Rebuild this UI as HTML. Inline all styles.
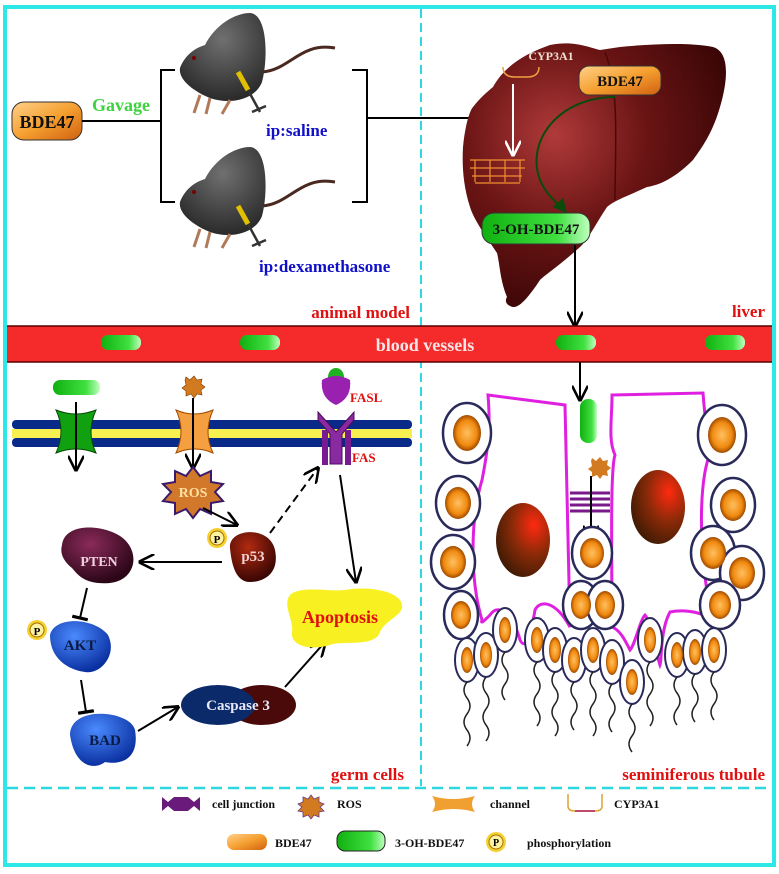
<!DOCTYPE html>
<html><head><meta charset="utf-8"><style>
html,body{margin:0;padding:0;background:#fff;width:779px;height:874px;overflow:hidden}
svg{display:block}
text{font-family:"Liberation Serif",serif;font-weight:bold}
</style></head><body>
<svg width="779" height="874" viewBox="0 0 779 874" xmlns="http://www.w3.org/2000/svg">
<defs>
<linearGradient id="og" x1="0" y1="0" x2="1" y2="1"><stop offset="0" stop-color="#ffd08a"/><stop offset=".5" stop-color="#f5a030"/><stop offset="1" stop-color="#d06010"/></linearGradient>
<linearGradient id="gg" x1="0" y1="0" x2="1" y2="0"><stop offset="0" stop-color="#10b010"/><stop offset=".7" stop-color="#40e040"/><stop offset="1" stop-color="#c0ffc0"/></linearGradient>
<radialGradient id="liv" cx=".35" cy=".35" r=".7"><stop offset="0" stop-color="#b03a3a"/><stop offset=".5" stop-color="#6a1414"/><stop offset="1" stop-color="#3a0606"/></radialGradient>
<radialGradient id="nuc" cx=".7" cy=".3" r=".8"><stop offset="0" stop-color="#ff2a10"/><stop offset=".5" stop-color="#8a2a08"/><stop offset="1" stop-color="#3a1a04"/></radialGradient>
<radialGradient id="on" cx=".5" cy=".5" r=".5"><stop offset="0" stop-color="#ffc060"/><stop offset=".7" stop-color="#f08a10"/><stop offset="1" stop-color="#a04a00"/></radialGradient>
<radialGradient id="blue" cx=".4" cy=".3" r=".7"><stop offset="0" stop-color="#4a8aff"/><stop offset="1" stop-color="#0a30a0"/></radialGradient>
<radialGradient id="plum" cx=".4" cy=".3" r=".7"><stop offset="0" stop-color="#8a2a5a"/><stop offset="1" stop-color="#2a0616"/></radialGradient>
<radialGradient id="p53" cx=".4" cy=".3" r=".7"><stop offset="0" stop-color="#b02a10"/><stop offset="1" stop-color="#3a0604"/></radialGradient>
<radialGradient id="rat" cx=".5" cy=".3" r=".7"><stop offset="0" stop-color="#707070"/><stop offset="1" stop-color="#2a2a2a"/></radialGradient>
<marker id="ah" viewBox="0 0 10 10" refX="9" refY="5" markerWidth="8" markerHeight="8" orient="auto"><path d="M0,0 L10,5 L0,10" fill="none" stroke="#000" stroke-width="1.6"/></marker>
<marker id="ahw" viewBox="0 0 10 10" refX="9" refY="5" markerWidth="8" markerHeight="8" orient="auto"><path d="M0,0 L10,5 L0,10" fill="none" stroke="#fff" stroke-width="1.6"/></marker>
<marker id="ahg" viewBox="0 0 10 10" refX="9" refY="5" markerWidth="7" markerHeight="7" orient="auto"><path d="M0,0 L10,5 L0,10z" fill="#0a4a0a"/></marker>
<marker id="tb" viewBox="0 0 10 10" refX="5" refY="5" markerWidth="8" markerHeight="8" orient="auto"><path d="M5,0 L5,10" stroke="#000" stroke-width="2"/></marker>
<g id="rat1">
 <path d="M335,48 C300,42 290,70 262,72" fill="none" stroke="#4a2a20" stroke-width="3"/>
 <path d="M180,68 C185,55 195,48 205,45 C215,25 235,13 250,13 C268,14 268,60 262,82 C255,100 230,105 210,98 C195,92 178,80 180,68z" fill="url(#rat)"/>
 <circle cx="194" cy="58" r="2" fill="#700"/>
 <path d="M200,95 l-6,18 M210,98 l-4,16 M230,100 l-8,14" stroke="#b07a5a" stroke-width="3"/>
 <path d="M238,72 l10,18" stroke="#e0c000" stroke-width="5"/>
 <path d="M248,90 l12,22 M252,112 l14,-6" stroke="#333" stroke-width="2.5"/>
</g>
</defs>

<rect x="5" y="7" width="769" height="858" fill="none" stroke="#2ee8e8" stroke-width="4"/>
<line x1="421" y1="9" x2="421" y2="786" stroke="#2ed8e0" stroke-width="2" stroke-dasharray="9,5"/>
<line x1="7" y1="788" x2="772" y2="788" stroke="#2ed8e0" stroke-width="2.5" stroke-dasharray="11,6"/>

<rect x="12" y="102" width="70" height="38" rx="12" fill="url(#og)" stroke="#333" stroke-width="1"/>
<text x="47" y="128" font-size="18" text-anchor="middle" fill="#111">BDE47</text>
<text x="92" y="111" font-size="18" fill="#3ed23e">Gavage</text>
<line x1="82" y1="121" x2="161" y2="121" stroke="#000" stroke-width="2"/>
<path d="M175,70 H161 V202 H175" fill="none" stroke="#000" stroke-width="2"/>
<path d="M352,70 H367 V202 H352" fill="none" stroke="#000" stroke-width="2"/>
<line x1="367" y1="118" x2="508" y2="118" stroke="#000" stroke-width="2" marker-end="url(#ah)"/>
<use href="#rat1"/>
<use href="#rat1" transform="translate(0,134)"/>
<text x="266" y="136" font-size="17" fill="#1010c8" font-weight="normal">ip:saline</text>
<text x="259" y="272" font-size="17" fill="#1010c8" font-weight="normal">ip:dexamethasone</text>
<text x="410" y="318" font-size="17" fill="#e01010" text-anchor="end">animal model</text>

<path d="M493,87 C505,65 527,53 550,45 C575,40 590,48 600,50 L620,47 C650,44 690,42 713,47 C730,52 728,80 720,107 C712,135 700,150 693,160 C675,178 660,185 647,187 C630,195 615,200 607,207 C595,225 588,240 580,247 C560,265 545,275 540,280 C530,295 520,308 513,307 C505,305 505,300 507,297 C500,280 500,265 497,253 C485,235 474,220 470,207 C463,185 462,165 463,147 C465,125 470,110 473,107 C480,98 487,92 493,87z" fill="url(#liv)"/>
<path d="M605,52 C620,90 615,150 615,200" stroke="#4a0808" stroke-width="1.5" fill="none"/>
<text x="551" y="60" font-size="12" fill="#f0e0d0" font-weight="normal" text-anchor="middle">CYP3A1</text>
<path d="M503,67 q0,10 12,10 h12 q12,0 12,-10" fill="none" stroke="#f0a040" stroke-width="1.5"/>
<path d="M470,160 h55 M470,168 h55 M472,176 h50 M475,183 h45 M475,160 v22 M490,160 v22 M505,160 v22 M520,160 v22" stroke="#f09030" stroke-width="1.2" fill="none"/>
<line x1="513" y1="84" x2="513" y2="155" stroke="#fff" stroke-width="2" marker-end="url(#ahw)"/>
<rect x="579" y="66" width="82" height="29" rx="10" fill="url(#og)" stroke="#333"/>
<text x="620" y="86" font-size="15" text-anchor="middle" fill="#111">BDE47</text>
<path d="M615,97 C560,97 525,140 540,180 C548,198 560,205 566,212" fill="none" stroke="#0a4a0a" stroke-width="2" marker-end="url(#ahg)"/>
<rect x="482" y="213" width="108" height="31" rx="12" fill="url(#gg)" stroke="#333"/>
<text x="536" y="234" font-size="15" text-anchor="middle" fill="#111">3-OH-BDE47</text>
<line x1="575" y1="245" x2="575" y2="326" stroke="#000" stroke-width="2" marker-end="url(#ah)"/>
<text x="765" y="317" font-size="17" fill="#e01010" text-anchor="end">liver</text>

<rect x="7" y="326" width="765" height="36" fill="#f52a2a"/>
<line x1="7" y1="326" x2="772" y2="326" stroke="#5a0000" stroke-width="1.5"/>
<line x1="7" y1="362" x2="772" y2="362" stroke="#5a0000" stroke-width="1.5"/>
<rect x="101" y="335" width="40" height="15" rx="7" fill="url(#gg)"/>
<rect x="240" y="335" width="40" height="15" rx="7" fill="url(#gg)"/>
<rect x="556" y="335" width="40" height="15" rx="7" fill="url(#gg)"/>
<rect x="705" y="335" width="40" height="15" rx="7" fill="url(#gg)"/>
<text x="425" y="351" font-size="18" fill="#f6e6e6" font-weight="normal" text-anchor="middle">blood vessels</text>
<line x1="580" y1="362" x2="580" y2="400" stroke="#000" stroke-width="2" marker-end="url(#ah)"/>

<rect x="12" y="420" width="400" height="9" rx="4" fill="#0a2a8a"/>
<rect x="12" y="429" width="400" height="9" fill="#f8f050"/>
<rect x="12" y="438" width="400" height="9" rx="4" fill="#0a2a8a"/>
<rect x="53" y="380" width="47" height="15" rx="7" fill="url(#gg)"/>
<path d="M56,410 q20,8 40,0 q-10,22 0,43 q-20,-8 -40,0 q10,-22 0,-43z" fill="#10a010" stroke="#064a06"/>
<line x1="76" y1="402" x2="76" y2="470" stroke="#000" stroke-width="2" marker-end="url(#ah)"/>
<path d="M186,377 l4,3 4,-4 3,4 5,-1 -1,5 4,3 -4,3 1,5 -5,-1 -3,4 -3,-4 -5,2 0,-5 -4,-3 4,-3 -1,-5z" fill="#d27a20" stroke="#7a3a00" stroke-width=".6"/>
<path d="M176,410 q18,8 37,0 q-10,22 0,43 q-18,-8 -37,0 q10,-22 0,-43z" fill="#f5a040" stroke="#a04a00"/>
<line x1="193" y1="398" x2="193" y2="468" stroke="#000" stroke-width="2" marker-end="url(#ah)"/>
<path d="M193,467 l7,9 11,-5 0,11 12,2 -8,8 8,9 -12,2 0,11 -11,-5 -7,9 -7,-9 -11,5 0,-11 -12,-2 8,-9 -8,-8 12,-2 0,-11 11,5z" fill="#d2782a" stroke="#3a1a6a" stroke-width="2"/>
<text x="193" y="497" font-size="14" font-weight="normal" fill="#ffe0a0" text-anchor="middle">ROS</text>
<ellipse cx="336" cy="377" rx="8" ry="9" fill="#20b020"/>
<path d="M322,380 q14,-8 28,0 q2,18 -14,25 q-16,-7 -14,-25z" fill="#9a20b0"/>
<path d="M318,412 l18,20 18,-20 v8 l-12,14 v30 h-12 v-30 l-12,-14z" fill="#8a2aa0" stroke="#4a0a5a"/>
<rect x="322" y="430" width="6" height="35" fill="#7a1a90"/><rect x="345" y="430" width="6" height="35" fill="#7a1a90"/>
<text x="350" y="402" font-size="13" fill="#e01010">FASL</text>
<text x="352" y="462" font-size="13" fill="#e01010">FAS</text>
<line x1="203" y1="508" x2="237" y2="525" stroke="#000" stroke-width="2" marker-end="url(#ah)"/>
<line x1="270" y1="533" x2="318" y2="468" stroke="#000" stroke-width="2" stroke-dasharray="8,5" marker-end="url(#ah)"/>
<line x1="340" y1="475" x2="356" y2="582" stroke="#000" stroke-width="2" marker-end="url(#ah)"/>
<path d="M230,548 C228,528 270,525 275,550 C280,575 262,582 250,582 C238,582 232,570 230,548z" fill="url(#p53)"/>
<text x="253" y="561" font-size="15" font-weight="normal" fill="#f0d0d0" text-anchor="middle">p53</text>
<circle cx="217" cy="538" r="10" fill="#f5d030"/><circle cx="217" cy="538" r="7" fill="#fff2a0" stroke="#a07000"/>
<text x="217" y="543" font-size="11" text-anchor="middle" fill="#000" font-family="Liberation Sans">P</text>
<line x1="222" y1="562" x2="140" y2="562" stroke="#000" stroke-width="2" marker-end="url(#ah)"/>
<path d="M62,545 C65,520 110,525 125,540 C140,555 135,580 110,583 C85,585 78,575 72,568 C62,560 60,552 62,545z" fill="url(#plum)"/>
<text x="99" y="566" font-size="14" font-weight="normal" fill="#f0d0e0" text-anchor="middle">PTEN</text>
<line x1="87" y1="588" x2="80" y2="618" stroke="#000" stroke-width="2" marker-end="url(#tb)"/>
<path d="M50,635 C55,615 95,618 108,635 C118,655 100,675 85,672 C70,670 50,660 50,635z" fill="url(#blue)"/>
<text x="80" y="650" font-size="15" fill="#0a1a40" text-anchor="middle">AKT</text>
<circle cx="37" cy="630" r="10" fill="#f5d030"/><circle cx="37" cy="630" r="7" fill="#fff2a0" stroke="#a07000"/>
<text x="37" y="635" font-size="11" text-anchor="middle" fill="#000" font-family="Liberation Sans">P</text>
<line x1="81" y1="680" x2="86" y2="712" stroke="#000" stroke-width="2" marker-end="url(#tb)"/>
<path d="M70,735 C70,705 130,710 135,730 C140,760 120,765 105,762 C95,770 75,768 70,735z" fill="url(#blue)"/>
<text x="105" y="745" font-size="15" fill="#0a1a40" text-anchor="middle">BAD</text>
<line x1="138" y1="731" x2="178" y2="707" stroke="#000" stroke-width="2" marker-end="url(#ah)"/>
<ellipse cx="262" cy="705" rx="34" ry="20" fill="#4a0a0a"/>
<ellipse cx="218" cy="705" rx="37" ry="20" fill="#0a2a6a"/>
<text x="238" y="710" font-size="15" font-weight="normal" fill="#e8e8f8" text-anchor="middle" font-family="Liberation Sans">Caspase 3</text>
<line x1="285" y1="687" x2="325" y2="642" stroke="#000" stroke-width="2" marker-end="url(#ah)"/>
<path d="M290,595 C300,585 330,592 345,590 C365,586 400,590 402,605 C404,615 385,620 380,632 C375,648 340,640 330,645 C315,650 290,648 292,632 C294,620 282,605 290,595z" fill="#f8f020"/>
<text x="340" y="623" font-size="18" fill="#e01010" text-anchor="middle">Apoptosis</text>
<text x="404" y="780" font-size="17" fill="#e01010" text-anchor="end">germ cells</text>

<g fill="none" stroke="#e020e0" stroke-width="3">
<path d="M488,395 L565,405 L570,627 C555,600 540,600 535,610 C530,640 525,650 520,640 C515,620 500,600 490,615 C485,620 480,625 482,620 C470,580 470,520 482,480 C490,440 490,420 488,395z"/>
<path d="M612,395 L703,393 C705,420 708,440 712,450 C700,470 696,540 712,620 C700,610 680,610 670,612 C660,630 662,660 660,665 C655,650 650,620 645,615 C640,620 635,645 630,650 C625,640 620,630 612,627 C612,560 610,470 615,455 C608,440 612,420 612,395z"/>
</g>
<ellipse cx="523" cy="540" rx="27" ry="37" fill="url(#nuc)"/>
<ellipse cx="658" cy="507" rx="27" ry="37" fill="url(#nuc)"/>
<rect x="580" y="399" width="17" height="44" rx="8" fill="url(#gg)"/>
<path d="M592,458 l4,3 4,-4 3,4 5,-1 -1,5 4,3 -4,3 1,5 -5,-1 -3,4 -3,-4 -5,2 0,-5 -4,-3 4,-3 -1,-5z" fill="#d27a20"/>
<g stroke="#7a1a8a" stroke-width="3"><path d="M570,493 h40 M570,499 h40 M570,505 h40 M570,511 h40"/></g>
<line x1="591" y1="476" x2="591" y2="540" stroke="#000" stroke-width="2" marker-end="url(#ah)"/>
<g stroke="#2a2a5a" stroke-width="2.5" fill="#fff">
<ellipse cx="467" cy="433" rx="24" ry="30"/><ellipse cx="458" cy="503" rx="22" ry="27"/><ellipse cx="453" cy="562" rx="22" ry="27"/>
<ellipse cx="722" cy="435" rx="24" ry="30"/><ellipse cx="733" cy="505" rx="22" ry="27"/><ellipse cx="713" cy="553" rx="22" ry="27"/><ellipse cx="742" cy="573" rx="22" ry="27"/><ellipse cx="720" cy="605" rx="20" ry="24"/>
<ellipse cx="592" cy="553" rx="20" ry="26"/><ellipse cx="581" cy="605" rx="18" ry="24"/><ellipse cx="605" cy="605" rx="18" ry="24"/>
<ellipse cx="461" cy="615" rx="17" ry="24"/>
</g>
<g fill="url(#on)">
<ellipse cx="467" cy="433" rx="14" ry="18"/><ellipse cx="458" cy="503" rx="13" ry="16"/><ellipse cx="453" cy="562" rx="13" ry="16"/>
<ellipse cx="722" cy="435" rx="14" ry="18"/><ellipse cx="733" cy="505" rx="13" ry="16"/><ellipse cx="713" cy="553" rx="13" ry="16"/><ellipse cx="742" cy="573" rx="13" ry="16"/><ellipse cx="720" cy="605" rx="11" ry="14"/>
<ellipse cx="592" cy="553" rx="12" ry="15"/><ellipse cx="581" cy="605" rx="10" ry="14"/><ellipse cx="605" cy="605" rx="10" ry="14"/><ellipse cx="461" cy="615" rx="10" ry="14"/>
</g>
<g stroke="#2a2a5a" stroke-width="2" fill="#fff">
<ellipse cx="467" cy="660" rx="12" ry="22"/><ellipse cx="486" cy="655" rx="12" ry="22"/><ellipse cx="505" cy="630" rx="12" ry="22"/>
<ellipse cx="537" cy="640" rx="12" ry="22"/><ellipse cx="555" cy="650" rx="12" ry="22"/><ellipse cx="574" cy="660" rx="12" ry="22"/>
<ellipse cx="593" cy="650" rx="12" ry="22"/><ellipse cx="612" cy="662" rx="12" ry="22"/><ellipse cx="632" cy="682" rx="12" ry="22"/>
<ellipse cx="650" cy="640" rx="12" ry="22"/><ellipse cx="677" cy="655" rx="12" ry="22"/><ellipse cx="695" cy="652" rx="12" ry="22"/><ellipse cx="714" cy="650" rx="12" ry="22"/>
</g>
<g fill="url(#on)">
<ellipse cx="467" cy="660" rx="6" ry="13"/><ellipse cx="486" cy="655" rx="6" ry="13"/><ellipse cx="505" cy="630" rx="6" ry="13"/>
<ellipse cx="537" cy="640" rx="6" ry="13"/><ellipse cx="555" cy="650" rx="6" ry="13"/><ellipse cx="574" cy="660" rx="6" ry="13"/>
<ellipse cx="593" cy="650" rx="6" ry="13"/><ellipse cx="612" cy="662" rx="6" ry="13"/><ellipse cx="632" cy="682" rx="6" ry="13"/>
<ellipse cx="650" cy="640" rx="6" ry="13"/><ellipse cx="677" cy="655" rx="6" ry="13"/><ellipse cx="695" cy="652" rx="6" ry="13"/><ellipse cx="714" cy="650" rx="6" ry="13"/>
</g>
<g fill="none" stroke="#222" stroke-width="1.5">
<path d="M467,682 q-6,8 0,16 q6,8 0,16 q-6,8 0,16 q6,8 0,16"/>
<path d="M486,677 q-6,8 0,16 q6,8 0,16 q-6,8 0,16 q6,8 0,16"/>
<path d="M505,652 q-6,8 0,16 q6,8 0,16 q-6,8 0,16"/>
<path d="M537,662 q-6,8 0,16 q6,8 0,16 q-6,8 0,16 q6,8 0,16"/>
<path d="M555,672 q-6,8 0,16 q6,8 0,16 q-6,8 0,16 q6,8 0,16"/>
<path d="M574,682 q-6,8 0,16 q6,8 0,16 q-6,8 0,16"/>
<path d="M593,672 q-6,8 0,16 q6,8 0,16 q-6,8 0,16 q6,8 0,16"/>
<path d="M612,684 q-6,8 0,16 q6,8 0,16 q-6,8 0,16"/>
<path d="M632,704 q-6,8 0,16 q6,8 0,16 q-6,8 0,16"/>
<path d="M650,662 q-6,8 0,16 q6,8 0,16 q-6,8 0,16 q6,8 0,16"/>
<path d="M677,677 q-6,8 0,16 q6,8 0,16 q-6,8 0,16"/>
<path d="M695,674 q-6,8 0,16 q6,8 0,16 q-6,8 0,16"/>
<path d="M714,672 q-6,8 0,16 q6,8 0,16 q-6,8 0,16"/>
</g>
<text x="765" y="780" font-size="17" fill="#e01010" text-anchor="end">seminiferous tubule</text>

<!-- legend -->
<path d="M162,797 l6,5 6,-5 v14 l-6,-5 -6,5z M174,797 h14 v14 h-14z M188,797 l6,5 6,-5 v14 l-6,-5 -6,5z" fill="#6a1a7a"/>
<text x="212" y="808" font-size="12" fill="#111">cell junction</text>
<path d="M311,795 l3,4 5,-2 0,5 5,2 -4,3 4,4 -5,1 0,5 -5,-2 -3,4 -3,-4 -5,2 0,-5 -5,-1 4,-4 -4,-3 5,-2 0,-5 5,2z" fill="#d27a20" stroke="#6a3a7a" stroke-width=".8"/>
<text x="337" y="808" font-size="12" fill="#111">ROS</text>
<path d="M432,796 q21,6 43,0 q-6,8 0,16 q-21,-6 -43,0 q6,-8 0,-16z" fill="#f0a030"/>
<text x="490" y="808" font-size="12" fill="#111">channel</text>
<path d="M568,794 v12 q0,5 7,5 h20 q7,0 7,-5 v-12" fill="none" stroke="#e0a030" stroke-width="1.5"/>
<path d="M575,811 h20" stroke="#c04a6a" stroke-width="2"/>
<text x="614" y="808" font-size="12" fill="#111">CYP3A1</text>
<rect x="227" y="834" width="40" height="16" rx="7" fill="url(#og)"/>
<text x="275" y="847" font-size="12" fill="#111">BDE47</text>
<rect x="337" y="831" width="48" height="20" rx="8" fill="url(#gg)" stroke="#222"/>
<text x="395" y="847" font-size="12" fill="#111">3-OH-BDE47</text>
<circle cx="496" cy="842" r="10" fill="#f5d030"/><circle cx="496" cy="842" r="7" fill="#fff2a0" stroke="#a07000"/>
<text x="496" y="846" font-size="10" text-anchor="middle" fill="#000" font-family="Liberation Sans">P</text>
<text x="527" y="847" font-size="12" fill="#111">phosphorylation</text>
</svg>
</body></html>
